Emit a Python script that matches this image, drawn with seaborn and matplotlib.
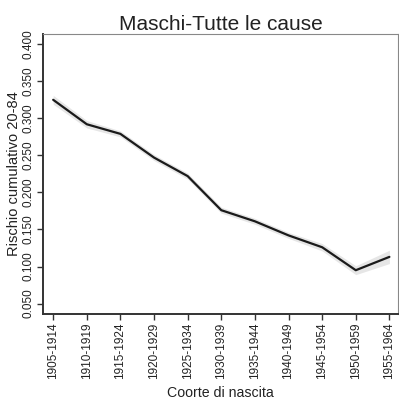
import matplotlib
matplotlib.use("Agg")
import matplotlib.pyplot as plt
import seaborn as sns
import pandas as pd

# Birth cohorts and cumulative risk (ages 20-84), all causes, males
cohorts = ["1905-1914", "1910-1919", "1915-1924", "1920-1929", "1925-1934",
           "1930-1939", "1935-1944", "1940-1949", "1945-1954", "1950-1959",
           "1955-1964"]
risk = [0.325, 0.292, 0.279, 0.247, 0.222, 0.176, 0.161, 0.142, 0.126, 0.095, 0.113]
risk_low = [0.319, 0.287, 0.275, 0.243, 0.218, 0.172, 0.157, 0.138, 0.121, 0.089, 0.104]
risk_high = [0.331, 0.297, 0.283, 0.251, 0.226, 0.180, 0.165, 0.146, 0.131, 0.101, 0.122]
y_ticks = [0.050, 0.100, 0.150, 0.200, 0.250, 0.300, 0.350, 0.400]

sns.set_theme(style="white")
plt.rcParams["font.family"] = ["Liberation Sans", "DejaVu Sans"]

df = pd.DataFrame({"pos": range(1, len(cohorts) + 1), "risk": risk,
                   "low": risk_low, "high": risk_high})

fig = plt.figure(figsize=(3.99, 4.03), dpi=100)
ax = fig.add_axes([0.108, 0.221, 0.889, 0.695])

ax.fill_between(df["pos"], df["low"], df["high"], color="#e6e6e6", lw=0)
sns.lineplot(data=df, x="pos", y="risk", ax=ax, color="#1a1a1a", lw=1.6)

ax.set_xlim(0.7, 11.25)
ax.set_ylim(0.036, 0.414)
ax.set_xticks(df["pos"])
ax.set_xticklabels(cohorts, rotation=90, fontsize=8.5, color="#222222")
ax.set_yticks(y_ticks)
ax.set_yticklabels([f"{v:.3f}" for v in y_ticks], rotation=90, va="center",
                   fontsize=8.5, color="#222222")
ax.tick_params(axis="both", direction="out", length=4, width=1.0,
               color="#333333", left=True, bottom=True, pad=2)

for side in ("left", "bottom"):
    ax.spines[side].set_color("#333333")
    ax.spines[side].set_linewidth(1.4)
for side in ("top", "right"):
    ax.spines[side].set_color("#888888")
    ax.spines[side].set_linewidth(0.8)

ax.set_xlabel("Coorte di nascita", fontsize=10.2, color="#222222", labelpad=5)
ax.set_ylabel("Rischio cumulativo 20-84", fontsize=10.5, color="#222222", labelpad=1)
ax.set_title("Maschi-Tutte le cause", fontsize=15, color="#222222", pad=3)

fig.savefig("out.png", dpi=100)
